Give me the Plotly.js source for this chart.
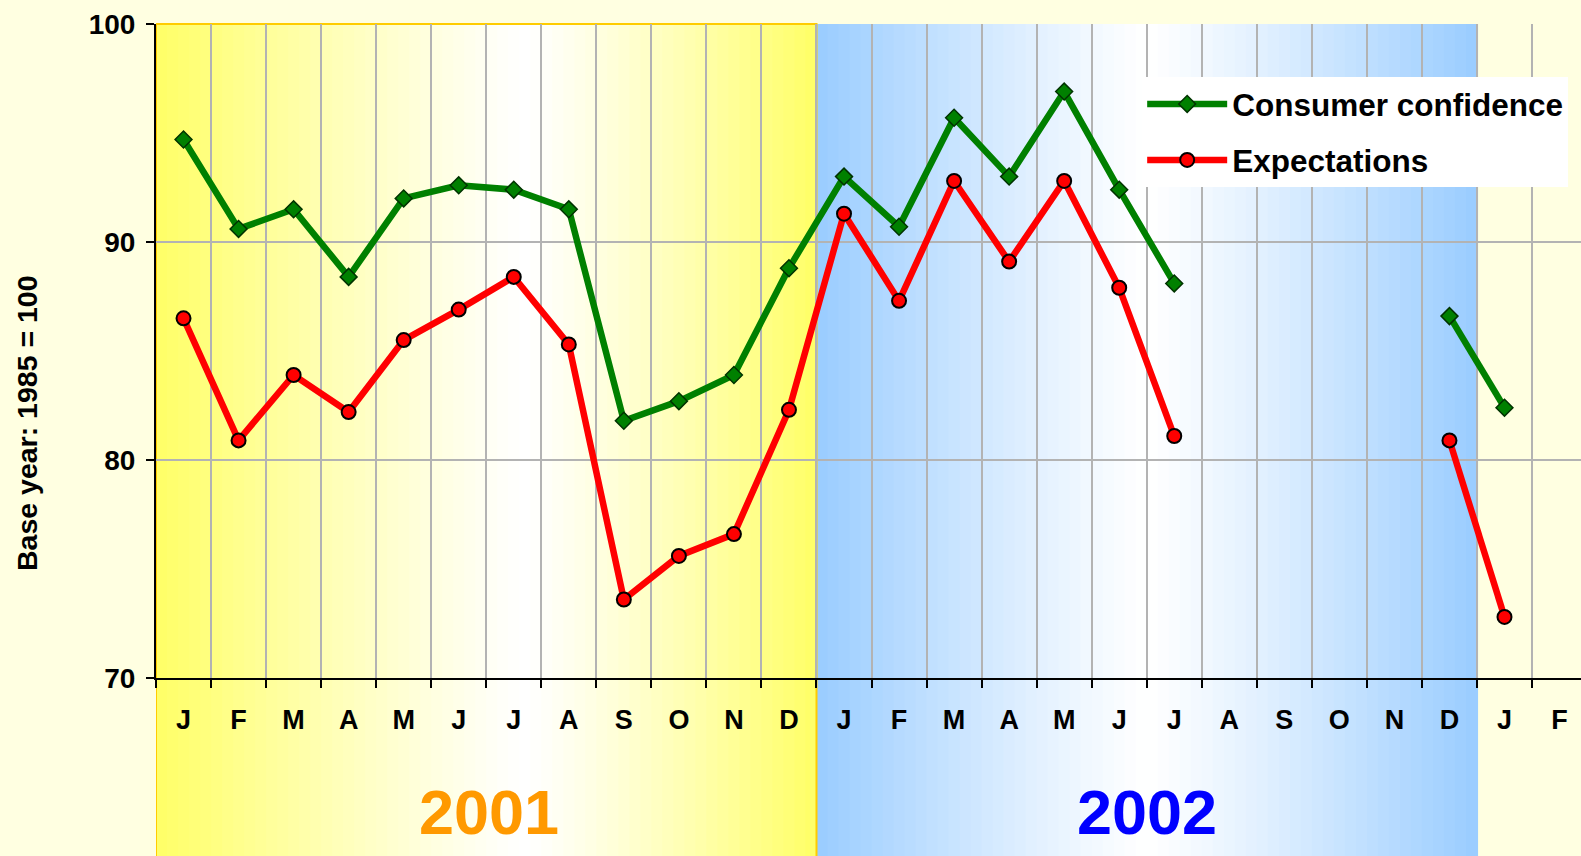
<!DOCTYPE html>
<html>
<head>
<meta charset="utf-8">
<script src="https://cdn.plot.ly/plotly-3.0.1.min.js"></script>
<style>html,body{margin:0;padding:0;background:#FFFFE1;}#chart{width:1581px;height:856px;}</style>
</head>
<body>
<div id="chart"></div>
<script>
// ---- data ----
const months = ['J','F','M','A','M','J','J','A','S','O','N','D',
                'J','F','M','A','M','J','J','A','S','O','N','D',
                'J','F'];
const years = ['2001', '2002'];
const consumerConfidence = [94.7, 90.6, 91.5, 88.4, 92.0, 92.6, 92.4, 91.5, 81.8, 82.7, 83.9, 88.8,
                            93.0, 90.7, 95.7, 93.0, 96.9, 92.4, 88.1, null, null, null, null, 86.6,
                            82.4, null];
const expectations = [86.5, 80.9, 83.9, 82.2, 85.5, 86.9, 88.4, 85.3, 73.6, 75.6, 76.6, 82.3,
                      91.3, 87.3, 92.8, 89.1, 92.8, 87.9, 81.1, null, null, null, null, 80.9,
                      72.8, null];
const yTitle = 'Base year: 1985 = 100';

const xIdx = months.map((_, i) => i);
const FONT = 'Liberation Sans, Arial, Helvetica, sans-serif';

// ---- background gradient strips for the two year bands ----
function lerp(a, b, t) { return Math.round(a + (b - a) * t); }
function bandStrips(start, end, rgb, center, n) {
  const shapes = [];
  const w = (end - start) / n;
  for (let k = 0; k < n; k++) {
    const u = (k + 0.5) / n;
    let t = u < center ? (center - u) / center : (u - center) / (1 - center);
    t = Math.min(1, Math.max(0, t));
    t = Math.pow(t, 1.15);
    const c = 'rgb(' + lerp(255, rgb[0], t) + ',' + lerp(255, rgb[1], t) + ',' + lerp(255, rgb[2], t) + ')';
    shapes.push({
      type: 'rect', xref: 'x', yref: 'paper', layer: 'below',
      x0: start + k * w, x1: start + (k + 1) * w + 0.02, y0: -0.3, y1: 1,
      fillcolor: c, line: {width: 0}
    });
  }
  return shapes;
}
let shapes = [];
shapes = shapes.concat(bandStrips(-0.5, 11.5, [255, 255, 102], 0.56, 60));
shapes = shapes.concat(bandStrips(11.5, 23.5, [153, 204, 255], 0.5, 60));
shapes.push({type: 'rect', xref: 'x', yref: 'paper', layer: 'below',
  x0: -0.5, x1: 11.5, y0: -0.3, y1: 1, line: {color: '#FFCC00', width: 2}});

const traces = [
  {
    x: xIdx, y: consumerConfidence, name: 'Consumer confidence',
    type: 'scatter', mode: 'lines+markers', connectgaps: false, legendgroup: 'a',
    line: {color: '#008000', width: 6.5},
    marker: {symbol: 'diamond', size: 13, color: '#008000', line: {color: '#003300', width: 1.5}}
  },
  {
    x: xIdx, y: expectations, name: 'Expectations',
    type: 'scatter', mode: 'lines+markers', connectgaps: false, legendgroup: 'b',
    line: {color: '#FF0000', width: 6.5},
    marker: {symbol: 'circle', size: 14, color: '#FF0000', line: {color: '#000000', width: 2}}
  }
];

const layout = {
  width: 1581, height: 856,
  margin: {l: 156, r: 0, t: 24, b: 178, pad: 0},
  paper_bgcolor: '#FFFFE1', plot_bgcolor: '#FFFFE1',
  font: {family: FONT, color: '#000000'},
  showlegend: true,
  xaxis: {
    range: [-0.5, 25.39], tickmode: 'array', tickvals: xIdx, ticktext: months,
    ticks: '', showgrid: false, zeroline: false,
    showline: true, linecolor: '#000000', linewidth: 2,
    tickfont: {family: FONT, size: 27, weight: 'bold', color: '#000000'},
    ticklabelstandoff: 17,
    minor: {tickmode: 'linear', tick0: -0.5, dtick: 1, ticks: 'outside', ticklen: 8,
            tickwidth: 2, tickcolor: '#000000', showgrid: true, gridcolor: '#B3B3B3', gridwidth: 2},
    fixedrange: true
  },
  yaxis: {
    range: [70, 100], tickmode: 'linear', tick0: 70, dtick: 10,
    ticks: 'outside', ticklen: 8, tickwidth: 2, tickcolor: '#000000',
    showline: true, linecolor: '#000000', linewidth: 2,
    showgrid: true, gridcolor: '#B3B3B3', gridwidth: 2, zeroline: false,
    tickfont: {family: FONT, size: 28, weight: 'bold', color: '#000000'},
    ticklabelstandoff: 5,
    fixedrange: true
  },
  legend: {
    x: 0.991, xanchor: 'right', y: 0.919, yanchor: 'top',
    bgcolor: '#FFFFFF', borderwidth: 0,
    font: {family: FONT, size: 31.5, weight: 'bold', color: '#000000'},
    traceorder: 'grouped', tracegroupgap: 12, itemwidth: 80
  },
  shapes: shapes,
  annotations: [
    {x: -0.0905, y: 0.39, xref: 'paper', yref: 'paper', text: yTitle, showarrow: false, textangle: -90,
     xanchor: 'center', yanchor: 'middle', font: {family: FONT, size: 28.5, weight: 'bold', color: '#000000'}},
    {x: 5.55, y: -0.205, xref: 'x', yref: 'paper', text: years[0], showarrow: false,
     xanchor: 'center', yanchor: 'middle', font: {family: FONT, size: 63, weight: 'bold', color: '#FF9900'}},
    {x: 17.5, y: -0.205, xref: 'x', yref: 'paper', text: years[1], showarrow: false,
     xanchor: 'center', yanchor: 'middle', font: {family: FONT, size: 63, weight: 'bold', color: '#0000FF'}}
  ]
};

Plotly.newPlot('chart', traces, layout, {staticPlot: true, displayModeBar: false});
</script>
</body>
</html>
